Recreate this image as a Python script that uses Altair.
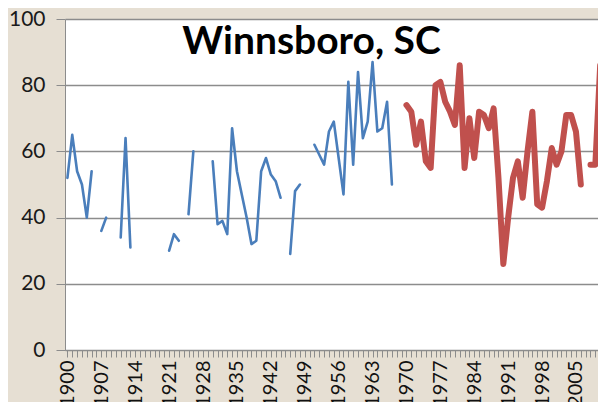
import altair as alt
import pandas as pd

# Annual values (gaps = missing years)
blue_years = list(range(1900, 1970))
blue_vals = [
    52, 65, 54, 50, 40, 54, None, 36, 40, None,      # 1900-1909
    None, 34, 64, 31, None, None, None, None, None, None,  # 1910-1919
    None, 30, 35, 33, None, 41, 60, None, None, None,      # 1920-1929
    57, 38, 39, 35, 67, 54, 47, 40, 32, 33,          # 1930-1939
    54, 58, 53, 51, 46, None, 29, 48, 50, None,      # 1940-1949
    None, 62, 59, 56, 66, 69, 58, 47, 81, 56,        # 1950-1959
    84, 64, 69, 87, 66, 67, 75, 50, None, None,      # 1960-1969
]
red_years = list(range(1970, 2012))
red_vals = [
    74, 72, 62, 69, 57, 55, 80, 81, 75, 72,          # 1970-1979
    68, 86, 55, 70, 58, 72, 71, 67, 73, 52,          # 1980-1989
    26, 40, 52, 57, 46, 60, 72, 44, 43, 51,          # 1990-1999
    61, 56, 60, 71, 71, 66, 50, None, 56, 56,        # 2000-2009
    86, 85,                                          # 2010-2011
]
tick_years = list(range(1900, 2012))
y_ticks = [0, 20, 40, 60, 80, 100]
title_text = "Winnsboro, SC"

blue_df = pd.DataFrame({"year": blue_years, "v": blue_vals})
red_df = pd.DataFrame({"year": red_years, "v": red_vals})

FONT = "Lato"
GRAY = "#8c8c8c"

x_enc = alt.X(
    "year:Q",
    scale=alt.Scale(domain=[1899.5, 2009.55], nice=False, zero=False),
    axis=alt.Axis(
        values=tick_years,
        tickCount=200,
        labelExpr="(datum.value - 1900) % 7 == 0 ? '' + datum.value : ''",
        labelAngle=-90,
        labelOverlap=False,
        labelFlush=False,
        tickSize=7,
        labelPadding=3,
        grid=False,
        domainColor=GRAY,
        tickColor=GRAY,
        title=None,
        labelFontSize=20,
        labelFont=FONT,
        labelColor="#111111",
    ),
)
y_enc = alt.Y(
    "v:Q",
    scale=alt.Scale(domain=[0, 100], nice=False),
    axis=alt.Axis(
        values=y_ticks,
        tickSize=9,
        labelPadding=11,
        gridColor=GRAY,
        gridWidth=1.5,
        domainColor=GRAY,
        tickColor=GRAY,
        labelFontSize=21,
        labelFont=FONT,
        labelColor="#1a1a1a",
        labelFlush=False,
        title=None,
    ),
)

blue = alt.Chart(blue_df).mark_line(
    color="#4a7ebb", strokeWidth=2.6, strokeJoin="round", strokeCap="round", clip=True
).encode(x=x_enc, y=y_enc)

red = alt.Chart(red_df).mark_line(
    color="#c0504d", strokeWidth=6, strokeJoin="round", strokeCap="round", clip=True
).encode(x="year:Q", y="v:Q")

title = alt.Chart(pd.DataFrame({"t": [title_text]})).mark_text(
    font=FONT, fontSize=39, fontWeight="bold", color="#000000",
    align="center", baseline="alphabetic",
).encode(text="t:N", x=alt.value(246.5), y=alt.value(35))

chart = alt.layer(blue, red, title).properties(
    width=533,
    height=331,
    padding={"left": 57, "top": 11, "right": 0, "bottom": 52},
    autosize="none",
    background="#e6dfd3",
).configure_view(stroke=None, fill="white")

chart.save("out.html", embed_options={"renderer": "svg", "actions": False})
